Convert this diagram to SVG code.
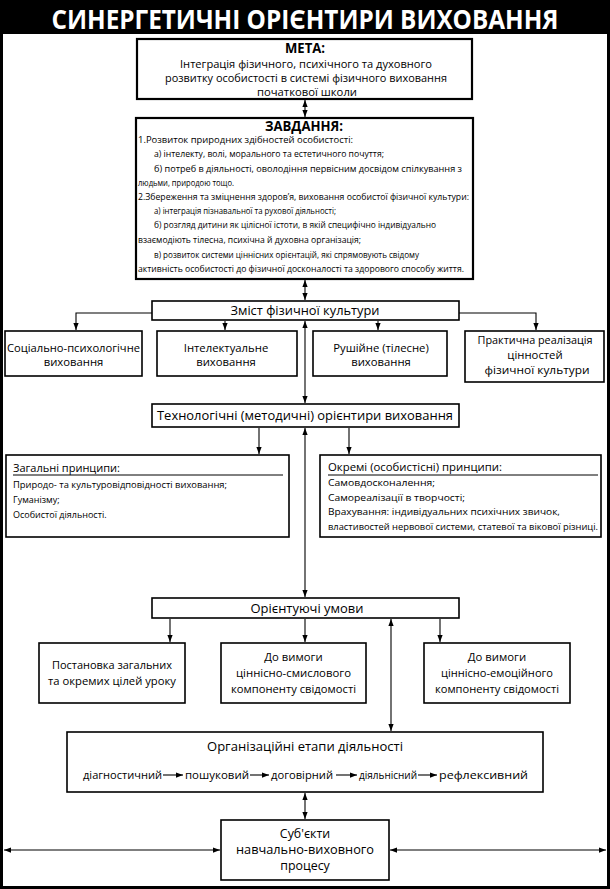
<svg xmlns="http://www.w3.org/2000/svg" width="610" height="889" viewBox="0 0 610 889">
<defs>
<style>
text{font-family:"Open Sans","Noto Sans","DejaVu Sans",sans-serif;fill:#000}
.title{font-weight:700;font-size:26px;fill:#fff}
.box{fill:#fff;stroke:#000;stroke-width:1.6}
.bbox{fill:#fff;stroke:#000;stroke-width:2.2}
.c{stroke:#000;stroke-width:1.1;fill:none}
.a{marker-end:url(#ah)}
.d{marker-start:url(#ah);marker-end:url(#ah)}
.h{font-weight:700;font-size:14px}
.s{font-size:8.3px}
.m{font-size:10.4px}
.l{font-size:11.3px}
.k{font-size:12.4px}
.p{font-size:9px}
.pt{font-size:11px}
.mid{text-anchor:middle}
</style>
<marker id="ah" viewBox="0 0 8 6" refX="8" refY="3" markerWidth="7" markerHeight="5.5" markerUnits="userSpaceOnUse" orient="auto-start-reverse"><path d="M0,0L8,3L0,6z" fill="#000"/></marker>
</defs>
<rect x="0" y="0" width="610" height="889" fill="#000"/>
<rect x="3" y="34" width="604" height="852" fill="#fff"/>
<text class="title mid" x="305" y="28.5" textLength="507" lengthAdjust="spacingAndGlyphs">СИНЕРГЕТИЧНІ ОРІЄНТИРИ ВИХОВАННЯ</text>

<g id="meta">
<rect class="bbox" x="137" y="39" width="335" height="60"/>
<text class="h mid" x="305" y="53" textLength="40" lengthAdjust="spacingAndGlyphs">МЕТА:</text>
<text class="m mid" x="306" y="67.5" textLength="252" lengthAdjust="spacingAndGlyphs">Інтеграція фізичного, психічного та духовного</text>
<text class="m mid" x="306" y="81.5" textLength="282" lengthAdjust="spacingAndGlyphs">розвитку особистості в системі фізичного виховання</text>
<text class="m mid" x="307" y="95.5" textLength="100" lengthAdjust="spacingAndGlyphs">початкової школи</text>
</g>

<g id="zavdannya">
<rect class="bbox" x="136" y="118" width="337" height="161"/>
<text class="h mid" x="304" y="131" textLength="78" lengthAdjust="spacingAndGlyphs">ЗАВДАННЯ:</text>
<text class="s" x="138" y="143" textLength="215" lengthAdjust="spacingAndGlyphs">1.Розвиток природних здібностей особистості:</text>
<text class="s" x="154" y="157" textLength="230" lengthAdjust="spacingAndGlyphs">а) інтелекту, волі, морального та естетичного почуття;</text>
<text class="s" x="154" y="171.5" textLength="308" lengthAdjust="spacingAndGlyphs">б) потреб в діяльності, оволодіння первісним досвідом спілкування з</text>
<text class="s" x="138" y="185.5" textLength="96" lengthAdjust="spacingAndGlyphs">людьми, природою тощо.</text>
<text class="s" x="138" y="199.5" textLength="331" lengthAdjust="spacingAndGlyphs">2.Збереження та зміцнення здоров’я, виховання особистої фізичної культури:</text>
<text class="s" x="154" y="213.5" textLength="182" lengthAdjust="spacingAndGlyphs">а) інтеграція пізнавальної та рухової діяльності;</text>
<text class="s" x="154" y="228" textLength="282" lengthAdjust="spacingAndGlyphs">б) розгляд дитини як цілісної істоти, в якій специфічно індивідуально</text>
<text class="s" x="138" y="243" textLength="223" lengthAdjust="spacingAndGlyphs">взаємодіють тілесна, психічна й духовна організація;</text>
<text class="s" x="154" y="257.5" textLength="265" lengthAdjust="spacingAndGlyphs">в) розвиток системи ціннісних орієнтацій, які спрямовують свідому</text>
<text class="s" x="138" y="272" textLength="326" lengthAdjust="spacingAndGlyphs">активність особистості до фізичної досконалості та здорового способу життя.</text>
</g>

<g id="zmist">
<rect class="box" x="152" y="301" width="307" height="19"/>
<text class="k mid" x="305" y="315" textLength="149" lengthAdjust="spacingAndGlyphs">Зміст фізичної культури</text>
</g>

<g id="socialne">
<rect class="box" x="5" y="331" width="137" height="45"/>
<text class="l mid" x="73.5" y="351.5" textLength="133" lengthAdjust="spacingAndGlyphs">Соціально-психологічне</text>
<text class="l mid" x="73.5" y="366">виховання</text>
</g>
<g id="intelektualne">
<rect class="box" x="157" y="331" width="140" height="45"/>
<text class="l mid" x="226" y="351.5">Інтелектуальне</text>
<text class="l mid" x="226" y="366">виховання</text>
</g>
<g id="rushiine">
<rect class="box" x="313" y="331" width="134" height="45"/>
<text class="l mid" x="381" y="351.5">Рушійне (тілесне)</text>
<text class="l mid" x="381" y="366">виховання</text>
</g>
<g id="praktychna">
<rect class="box" x="465" y="331" width="139" height="51"/>
<text class="l mid" x="535" y="344" textLength="115" lengthAdjust="spacingAndGlyphs">Практична реалізація</text>
<text class="l mid" x="535" y="359">цінностей</text>
<text class="l mid" x="537" y="374" textLength="105" lengthAdjust="spacingAndGlyphs">фізичної культури</text>
</g>

<g id="tekhnolohichni">
<rect class="box" x="152" y="404" width="307" height="23"/>
<text class="k mid" x="305" y="420" textLength="296" lengthAdjust="spacingAndGlyphs">Технологічні (методичні) орієнтири виховання</text>
</g>

<g id="zagalni">
<rect class="box" x="6" y="455" width="283" height="82"/>
<text class="pt" x="13" y="472" textLength="107" lengthAdjust="spacingAndGlyphs">Загальні принципи:</text>
<line x1="13" y1="475" x2="283" y2="475" stroke="#000" stroke-width="1"/>
<text class="p" x="13" y="488" textLength="214" lengthAdjust="spacingAndGlyphs">Природо- та культуровідповідності виховання;</text>
<text class="p" x="13" y="503">Гуманізму;</text>
<text class="p" x="13" y="517.5">Особистої діяльності.</text>
</g>

<g id="okremi">
<rect class="box" x="320" y="455" width="281" height="82"/>
<text class="pt" x="328" y="471" textLength="174" lengthAdjust="spacingAndGlyphs">Окремі (особистісні) принципи:</text>
<line x1="328" y1="475" x2="598" y2="475" stroke="#000" stroke-width="1"/>
<text class="p" x="328" y="486" textLength="107" lengthAdjust="spacingAndGlyphs">Самовдосконалення;</text>
<text class="p" x="328" y="500.5" textLength="137" lengthAdjust="spacingAndGlyphs">Самореалізації в творчості;</text>
<text class="p" x="328" y="515" textLength="232" lengthAdjust="spacingAndGlyphs">Врахування: індивідуальних психічних звичок,</text>
<text class="p" x="328" y="529.5" textLength="270" lengthAdjust="spacingAndGlyphs">властивостей нервової системи, статевої та вікової різниці.</text>
</g>

<g id="oriientuiuchi">
<rect class="box" x="152" y="598" width="307" height="20"/>
<text class="k mid" x="307" y="612.5" textLength="113" lengthAdjust="spacingAndGlyphs">Орієнтуючі умови</text>
</g>

<g id="postanovka">
<rect class="box" x="39" y="643" width="146" height="60"/>
<text class="l mid" x="112" y="669" textLength="120" lengthAdjust="spacingAndGlyphs">Постановка загальних</text>
<text class="l mid" x="112" y="685" textLength="128" lengthAdjust="spacingAndGlyphs">та окремих цілей уроку</text>
</g>
<g id="smyslovoho">
<rect class="box" x="221" y="643" width="145" height="60"/>
<text class="l mid" x="293.5" y="661">До вимоги</text>
<text class="l mid" x="293.5" y="677" textLength="115" lengthAdjust="spacingAndGlyphs">ціннісно-смислового</text>
<text class="l mid" x="293.5" y="693" textLength="125" lengthAdjust="spacingAndGlyphs">компоненту свідомості</text>
</g>
<g id="emotsiinoho">
<rect class="box" x="424" y="643" width="146" height="60"/>
<text class="l mid" x="497" y="661">До вимоги</text>
<text class="l mid" x="497" y="677" textLength="112" lengthAdjust="spacingAndGlyphs">ціннісно-емоційного</text>
<text class="l mid" x="497" y="693" textLength="124" lengthAdjust="spacingAndGlyphs">компоненту свідомості</text>
</g>

<g id="orhanizatsiini">
<rect class="box" x="67" y="732" width="476" height="60"/>
<text class="k mid" x="305" y="751" textLength="196" lengthAdjust="spacingAndGlyphs">Організаційні етапи діяльності</text>
<text class="l" x="83" y="779" textLength="79" lengthAdjust="spacingAndGlyphs">діагностичний</text>
<text class="l" x="185" y="779" textLength="64" lengthAdjust="spacingAndGlyphs">пошуковий</text>
<text class="l" x="271" y="779" textLength="62" lengthAdjust="spacingAndGlyphs">договірний</text>
<text class="l" x="359" y="779" textLength="58" lengthAdjust="spacingAndGlyphs">діяльнісний</text>
<text class="l" x="439" y="779" textLength="89" lengthAdjust="spacingAndGlyphs">рефлексивний</text>
</g>

<g id="subiekty">
<rect class="box" x="221" y="820" width="168" height="60"/>
<text class="k mid" x="305" y="838">Суб'єкти</text>
<text class="k mid" x="305" y="854" textLength="138" lengthAdjust="spacingAndGlyphs">навчально-виховного</text>
<text class="k mid" x="305" y="870">процесу</text>
</g>

<g id="connectors">
<line class="c d" x1="305" y1="100" x2="305" y2="117"/>
<line class="c d" x1="305" y1="280" x2="305" y2="300"/>
<path class="c a" d="M152,313H76V330"/>
<path class="c a" d="M225,321V330"/>
<path class="c a" d="M378,321V330"/>
<path class="c a" d="M459,313H536V330"/>
<line class="c d" x1="305" y1="321" x2="305" y2="403"/>
<path class="c a" d="M259,428V454"/>
<path class="c a" d="M349,428V454"/>
<line class="c d" x1="305" y1="428" x2="305" y2="597"/>
<path class="c a" d="M170,619V642"/>
<path class="c a" d="M305,619V642"/>
<path class="c a" d="M440,619V642"/>
<line class="c d" x1="391" y1="619" x2="391" y2="731"/>
<line class="c d" x1="305" y1="793" x2="305" y2="819"/>
<line class="c d" x1="220" y1="850" x2="4" y2="850"/>
<line class="c d" x1="390" y1="850" x2="606" y2="850"/>
<path class="c a" d="M163,775H183"/>
<path class="c a" d="M250,775H269"/>
<path class="c a" d="M336,775H357"/>
<path class="c a" d="M418,775H437"/>
</g>
</svg>
